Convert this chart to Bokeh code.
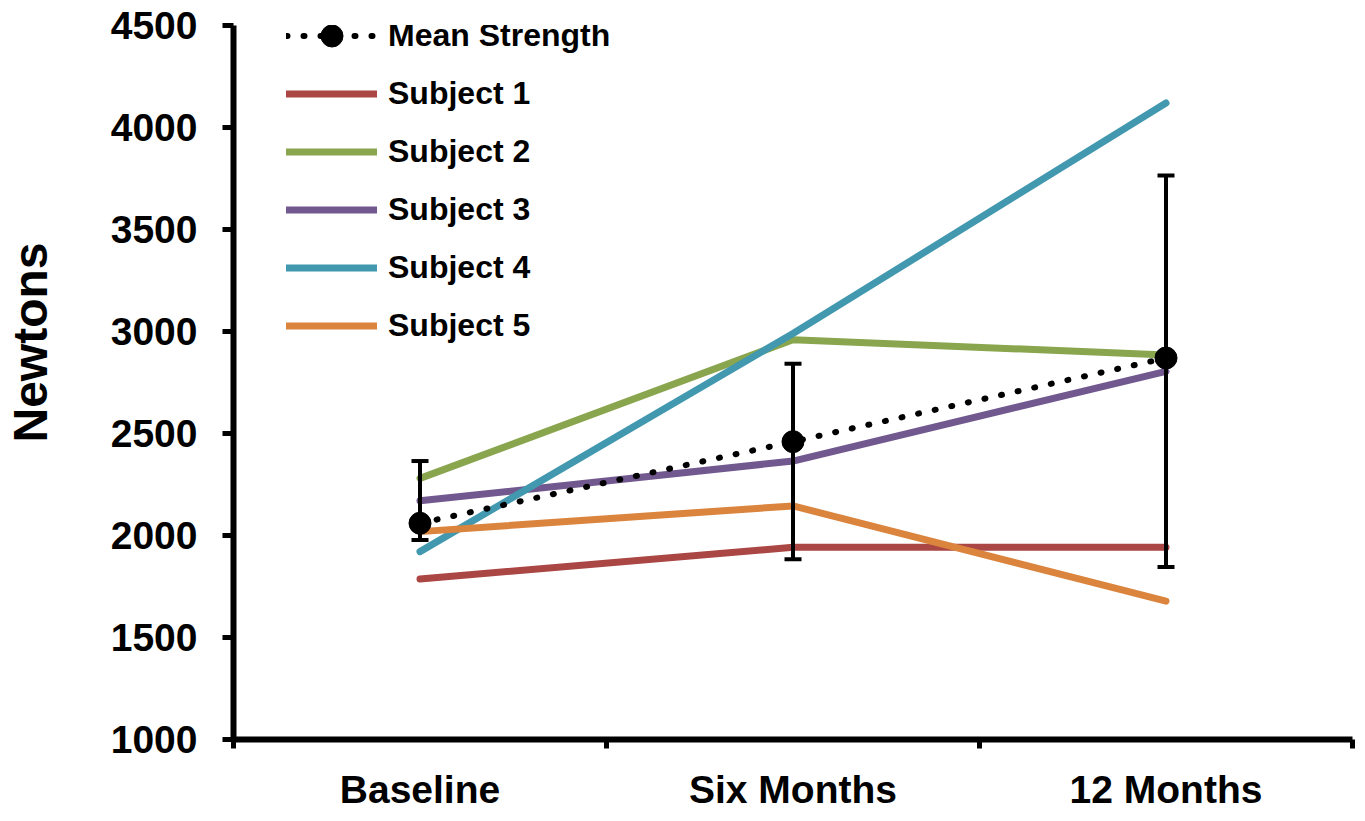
import math
from bokeh.plotting import figure
from bokeh.models import (Range1d, FixedTicker, Whisker, TeeHead, ColumnDataSource,
                          Legend, LegendItem, Label)
from bokeh.embed import file_html
from bokeh.resources import INLINE

# ---- data ----
categories = ["Baseline", "Six Months", "12 Months"]
mean_strength = [2060, 2460, 2870]
err_upper = [2365, 2842, 3765]
err_lower = [1978, 1884, 1845]
subject_1 = [1787, 1942, 1942]
subject_2 = [2280, 2960, 2885]
subject_3 = [2170, 2365, 2805]
subject_4 = [1921, 2990, 4120]
subject_5 = [2019, 2145, 1678]
subject_names = ["Subject 1", "Subject 2", "Subject 3", "Subject 4", "Subject 5"]
subject_colors = ["#AA4643", "#89A54E", "#71588F", "#4198AF", "#DB843D"]
y_ticks = [1000, 1500, 2000, 2500, 3000, 3500, 4000, 4500]

FONT = "Liberation Sans"

xpos = [i + 0.5 for i in range(len(categories))]
bounds = list(range(len(categories) + 1))

p = figure(width=1357, height=813,
           x_range=Range1d(0, len(categories)), y_range=Range1d(1000, 4500),
           output_backend="svg", toolbar_location=None,
           min_border_left=233, min_border_right=5,
           min_border_top=25, min_border_bottom=73)
p.outline_line_color = None
p.xgrid.visible = False
p.ygrid.visible = False
p.background_fill_color = "white"
p.border_fill_color = "white"

# x axis
xa = p.xaxis[0]
xa.ticker = FixedTicker(ticks=xpos, minor_ticks=bounds)
xa.major_label_overrides = {x: c for x, c in zip(xpos, categories)}
xa.major_tick_line_color = None
xa.major_tick_out = 9
xa.major_tick_in = 0
xa.minor_tick_line_color = "black"
xa.minor_tick_line_width = 5
xa.minor_tick_out = 9
xa.minor_tick_in = 0
xa.axis_line_width = 6
xa.axis_line_color = "black"
xa.major_label_text_font = FONT
xa.major_label_text_font_style = "bold"
xa.major_label_text_font_size = "39px"
xa.major_label_text_color = "black"
xa.major_label_standoff = 19

# y axis
ya = p.yaxis[0]
ya.ticker = FixedTicker(ticks=y_ticks)
ya.minor_tick_line_color = None
ya.major_tick_line_color = "black"
ya.major_tick_line_width = 5
ya.major_tick_out = 11
ya.major_tick_in = 0
ya.axis_line_width = 6
ya.axis_line_color = "black"
ya.major_label_text_font = FONT
ya.major_label_text_font_style = "bold"
ya.major_label_text_font_size = "39px"
ya.major_label_text_color = "black"
ya.major_label_standoff = 25

# subject lines
subject_values = [subject_1, subject_2, subject_3, subject_4, subject_5]
subject_renderers = []
for vals, col in zip(subject_values, subject_colors):
    r = p.line(xpos, vals, line_color=col, line_width=7,
               line_cap="round", line_join="round")
    subject_renderers.append(r)

# error bars
err_src = ColumnDataSource(dict(base=xpos, upper=err_upper, lower=err_lower))
w = Whisker(base="base", upper="upper", lower="lower", source=err_src,
            line_color="black", line_width=4, level="glyph",
            upper_head=TeeHead(size=17, line_width=4, line_color="black"),
            lower_head=TeeHead(size=17, line_width=4, line_color="black"))
p.add_layout(w)

# mean strength
mean_line = p.line(xpos, mean_strength, line_color="black", line_width=6,
                   line_dash="1 16", line_cap="round")
mean_dots = p.scatter(xpos, mean_strength, size=22, fill_color="black",
                      line_color="black")

items = [LegendItem(label="Mean Strength", renderers=[mean_line, mean_dots])]
for name, r in zip(subject_names, subject_renderers):
    items.append(LegendItem(label=name, renderers=[r]))

legend = Legend(items=items, location=(53, 386), padding=0, margin=0,
                glyph_width=91, glyph_height=55, label_height=55, spacing=3,
                label_standoff=11, border_line_color=None,
                background_fill_alpha=0,
                label_text_font=FONT, label_text_font_style="bold",
                label_text_font_size="32px", label_text_color="black")
p.add_layout(legend)

ylabel = Label(x=0, y=397, x_units="data", y_units="screen", x_offset=-203,
               text="Newtons", angle=math.pi / 2, text_align="center",
               text_baseline="middle", text_font=FONT, text_font_style="bold",
               text_font_size="48px", text_color="black")
p.add_layout(ylabel, "left")

open("out.html", "w").write(file_html(p, INLINE))
